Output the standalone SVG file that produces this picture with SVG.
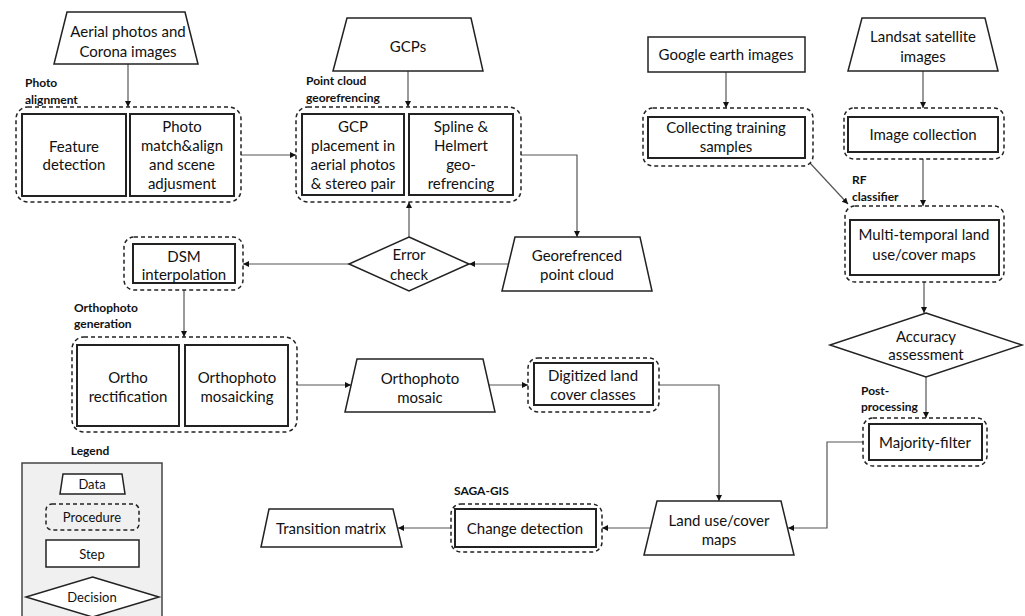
<svg xmlns="http://www.w3.org/2000/svg" width="1025" height="616" viewBox="0 0 1025 616">
<style>
  .data{fill:#fff;stroke:#222;stroke-width:1.5}
  .step{fill:#fff;stroke:#222;stroke-width:2}
  .proc{fill:none;stroke:#222;stroke-width:1.5;stroke-dasharray:4 3}
  .dec{fill:#fff;stroke:#222;stroke-width:1.5}
  .t{font-family:Lato,"Liberation Sans",sans-serif;font-size:15px;fill:#111;text-anchor:middle}
  .lb{font-family:Lato,"Liberation Sans",sans-serif;font-size:12px;font-weight:bold;fill:#111}
  .lt{font-family:Lato,"Liberation Sans",sans-serif;font-size:13px;fill:#111;text-anchor:middle}
  .c{fill:none;stroke:#555;stroke-width:1.2;marker-end:url(#ah)}
</style>
<defs>
  <marker id="ah" markerUnits="userSpaceOnUse" markerWidth="7" markerHeight="7" refX="6" refY="3" orient="auto">
    <path d="M0,0 L6,3 L0,6 z" fill="#111"/>
  </marker>
</defs>
<rect width="1025" height="616" fill="#fff"/>

<g id="connectors">
  <path class="c" d="M128,64 V107"/>
  <path class="c" d="M241,155 H296"/>
  <path class="c" d="M408,71 V107"/>
  <path class="c" d="M521,155 H577 V237"/>
  <path class="c" d="M508,264 H469"/>
  <path class="c" d="M409,237 V202"/>
  <path class="c" d="M349,264 H243"/>
  <path class="c" d="M184,290 V337"/>
  <path class="c" d="M297,385 H351"/>
  <path class="c" d="M489,385 H528"/>
  <path class="c" d="M659,385 H719 V501"/>
  <path class="c" d="M726,72 V108"/>
  <path class="c" d="M810,163 L848,204"/>
  <path class="c" d="M923,71 V108"/>
  <path class="c" d="M923,159 V206"/>
  <path class="c" d="M924,282 V313"/>
  <path class="c" d="M926,377 V418"/>
  <path class="c" d="M863,442 H827 V528 H788"/>
  <path class="c" d="M650,528 H602"/>
  <path class="c" d="M451,528 H398"/>
</g>

<g id="aerial">
  <polygon class="data" points="67,12 185,12 198,64 54,64"/>
  <text class="t" x="128" y="37">Aerial photos and</text>
  <text class="t" x="128" y="57">Corona images</text>
</g>

<g id="photo-alignment">
  <text class="lb" x="25" y="87">Photo</text>
  <text class="lb" x="25" y="104">alignment</text>
  <rect class="proc" x="16" y="107" width="225" height="95" rx="12"/>
  <rect class="step" x="22" y="114" width="104" height="82"/>
  <rect class="step" x="130" y="114" width="104" height="82"/>
  <text class="t" x="74" y="152">Feature</text>
  <text class="t" x="74" y="170">detection</text>
  <text class="t" x="182" y="132">Photo</text>
  <text class="t" x="182" y="151">match&amp;align</text>
  <text class="t" x="182" y="170">and scene</text>
  <text class="t" x="182" y="189">adjusment</text>
</g>

<g id="gcps">
  <polygon class="data" points="347,18 471,18 483,71 333,71"/>
  <text class="t" x="408" y="52">GCPs</text>
</g>

<g id="point-cloud-georef">
  <text class="lb" x="306" y="85">Point cloud</text>
  <text class="lb" x="306" y="102">georefrencing</text>
  <rect class="proc" x="296" y="107" width="225" height="95" rx="12"/>
  <rect class="step" x="302" y="114" width="102" height="81"/>
  <rect class="step" x="409" y="114" width="104" height="81"/>
  <text class="t" x="353" y="132">GCP</text>
  <text class="t" x="353" y="151">placement in</text>
  <text class="t" x="353" y="170">aerial photos</text>
  <text class="t" x="353" y="189">&amp; stereo pair</text>
  <text class="t" x="461" y="132">Spline &amp;</text>
  <text class="t" x="461" y="151">Helmert</text>
  <text class="t" x="461" y="170">geo-</text>
  <text class="t" x="461" y="189">refrencing</text>
</g>

<g id="google-earth">
  <rect class="step" x="648" y="37" width="157" height="35" style="stroke-width:1.5"/>
  <text class="t" x="726" y="60">Google earth images</text>
</g>

<g id="collecting-training">
  <rect class="proc" x="643" y="108" width="170" height="58" rx="10"/>
  <rect class="step" x="648" y="117" width="157" height="41"/>
  <text class="t" x="726" y="133">Collecting training</text>
  <text class="t" x="726" y="152">samples</text>
</g>

<g id="landsat">
  <polygon class="data" points="862,18 985,18 998,71 848,71"/>
  <text class="t" x="923" y="42">Landsat satellite</text>
  <text class="t" x="923" y="62">images</text>
</g>

<g id="image-collection">
  <rect class="proc" x="844" y="108" width="160" height="51" rx="10"/>
  <rect class="step" x="848" y="117" width="150" height="35"/>
  <text class="t" x="923" y="140">Image collection</text>
</g>

<g id="multi-temporal">
  <text class="lb" x="852" y="184">RF</text>
  <text class="lb" x="852" y="201">classifier</text>
  <rect class="proc" x="845" y="206" width="159" height="76" rx="10"/>
  <rect class="step" x="850" y="220" width="149" height="55"/>
  <text class="t" x="924" y="240">Multi-temporal land</text>
  <text class="t" x="924" y="260">use/cover maps</text>
</g>

<g id="accuracy">
  <polygon class="dec" points="926,313 1022,345 926,377 830,345"/>
  <text class="t" x="926" y="342">Accuracy</text>
  <text class="t" x="926" y="360">assessment</text>
</g>

<g id="majority">
  <text class="lb" x="861" y="395">Post-</text>
  <text class="lb" x="861" y="411">processing</text>
  <rect class="proc" x="863" y="418" width="124" height="48" rx="10"/>
  <rect class="step" x="869" y="424" width="113" height="36"/>
  <text class="t" x="925" y="448">Majority-filter</text>
</g>

<g id="georefrenced">
  <polygon class="data" points="515,237 640,237 652,291 502,291"/>
  <text class="t" x="577" y="261">Georefrenced</text>
  <text class="t" x="577" y="280">point cloud</text>
</g>

<g id="error-check">
  <polygon class="dec" points="409,237 469,264 409,291 349,264"/>
  <text class="t" x="409" y="260">Error</text>
  <text class="t" x="409" y="280">check</text>
</g>

<g id="dsm">
  <rect class="proc" x="124" y="237" width="119" height="53" rx="10"/>
  <rect class="step" x="133" y="244" width="102" height="39"/>
  <text class="t" x="184" y="262">DSM</text>
  <text class="t" x="184" y="280">interpolation</text>
</g>

<g id="orthophoto-generation">
  <text class="lb" x="74" y="312">Orthophoto</text>
  <text class="lb" x="74" y="328">generation</text>
  <rect class="proc" x="72" y="337" width="225" height="95" rx="12"/>
  <rect class="step" x="77" y="345" width="102" height="81"/>
  <rect class="step" x="185" y="345" width="103" height="81"/>
  <text class="t" x="128" y="383">Ortho</text>
  <text class="t" x="128" y="402">rectification</text>
  <text class="t" x="237" y="383">Orthophoto</text>
  <text class="t" x="237" y="402">mosaicking</text>
</g>

<g id="orthophoto-mosaic">
  <polygon class="data" points="357,359 483,359 495,412 345,412"/>
  <text class="t" x="420" y="384">Orthophoto</text>
  <text class="t" x="420" y="403">mosaic</text>
</g>

<g id="digitized">
  <rect class="proc" x="528" y="358" width="131" height="54" rx="10"/>
  <rect class="step" x="534" y="363" width="119" height="42"/>
  <text class="t" x="593" y="381">Digitized land</text>
  <text class="t" x="593" y="400">cover classes</text>
</g>

<g id="land-use">
  <polygon class="data" points="657,501 781,501 794,555 644,555"/>
  <text class="t" x="719" y="526">Land use/cover</text>
  <text class="t" x="719" y="545">maps</text>
</g>

<g id="change-detection">
  <text class="lb" x="454" y="495">SAGA-GIS</text>
  <rect class="proc" x="451" y="504" width="151" height="48" rx="10"/>
  <rect class="step" x="455" y="509" width="141" height="38"/>
  <text class="t" x="525" y="534">Change detection</text>
</g>

<g id="transition">
  <polygon class="data" points="269,509 393,509 402,547 261,547"/>
  <text class="t" x="331" y="534">Transition matrix</text>
</g>

<g id="legend">
  <text class="lb" x="90" y="455" text-anchor="middle">Legend</text>
  <rect x="22" y="463" width="140" height="170" fill="#f0f0f0" stroke="#444" stroke-width="1.5"/>
  <polygon class="data" points="63,474 122,474 125,494 60,494"/>
  <text class="lt" x="92" y="489">Data</text>
  <rect class="proc" x="46" y="504" width="93" height="26" rx="6"/>
  <text class="lt" x="92" y="522">Procedure</text>
  <rect class="step" x="46" y="540" width="93" height="27" style="stroke-width:1.5"/>
  <text class="lt" x="92" y="559">Step</text>
  <polygon class="dec" points="92.5,577 159,597 92.5,617 26,597"/>
  <text class="lt" x="92" y="602">Decision</text>
</g>
</svg>
